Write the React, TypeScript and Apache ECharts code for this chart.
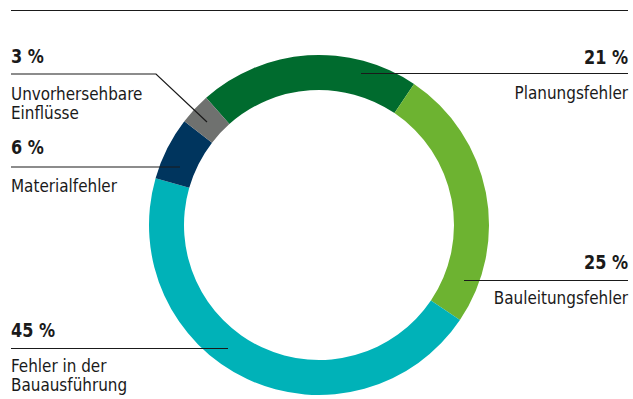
import React, { useEffect, useRef } from "react";
import * as echarts from "echarts";

// Causes of construction defects, share in percent
const categories = [
  "Planungsfehler",
  "Bauleitungsfehler",
  "Fehler in der\nBauausführung",
  "Materialfehler",
  "Unvorhersehbare\nEinflüsse",
];
const shares = [21, 25, 45, 6, 3];
const sliceColors = ["#006b2e", "#6db331", "#00b2b8", "#00355e", "#6f716f"];

// Callout placement for each slice (same order as the data)
type Callout = {
  side: "left" | "right";
  leader: number[][];
  pctY: number;
  nameY: number;
};
const callouts: Callout[] = [
  { side: "right", leader: [[361, 73.5], [628, 73.5]], pctY: 57, nameY: 93 },
  { side: "right", leader: [[464, 280.5], [628, 280.5]], pctY: 262.5, nameY: 298 },
  { side: "left", leader: [[11, 348.5], [228, 348.5]], pctY: 330, nameY: 365.5 },
  { side: "left", leader: [[11, 167], [180, 167]], pctY: 147.5, nameY: 186 },
  { side: "left", leader: [[11, 74], [156, 74], [207, 122]], pctY: 56, nameY: 94 },
];

const FONT = "'DejaVu Sans Condensed', 'DejaVu Sans', sans-serif";
const INK = "#1a1a1a";
const LEFT_X = 11;
const RIGHT_X = 628;
const LINE_GAP = 19;
const TEXT_SIZE = 18;
const PCT_SIZE = 19;
const TEXT_SQUEEZE = 0.94;

function buildGraphics() {
  const els: any[] = [
    {
      type: "line",
      z: 100,
      shape: { x1: LEFT_X, y1: 10.5, x2: RIGHT_X, y2: 10.5 },
      style: { stroke: INK, lineWidth: 1.2 },
    },
  ];
  callouts.forEach((c, i) => {
    const x = c.side === "left" ? LEFT_X : RIGHT_X;
    const align = c.side === "left" ? "left" : "right";
    els.push({
      type: "polyline",
      z: 100,
      shape: { points: c.leader },
      style: { stroke: INK, lineWidth: 1.2, fill: null },
    });
    els.push({
      type: "text",
      z: 100,
      x,
      y: c.pctY,
      scaleX: TEXT_SQUEEZE,
      style: {
        text: `${shares[i]} %`,
        font: `bold ${PCT_SIZE}px ${FONT}`,
        fill: INK,
        align,
        verticalAlign: "middle",
      },
    });
    categories[i].split("\n").forEach((line, k) => {
      els.push({
        type: "text",
        z: 100,
        x,
        y: c.nameY + k * LINE_GAP,
        scaleX: TEXT_SQUEEZE,
        style: {
          text: line,
          font: `${TEXT_SIZE}px ${FONT}`,
          fill: INK,
          align,
          verticalAlign: "middle",
        },
      });
    });
  });
  return els;
}

export default function App() {
  const ref = useRef<HTMLDivElement>(null);

  useEffect(() => {
    if (!ref.current) return;
    const chart = echarts.init(ref.current, null, { renderer: "svg" });
    chart.setOption({
      animation: false,
      backgroundColor: "#ffffff",
      series: [
        {
          type: "pie",
          center: [319, 225],
          radius: [135, 170],
          startAngle: 131.6,
          clockwise: true,
          silent: true,
          avoidLabelOverlap: false,
          label: { show: false },
          labelLine: { show: false },
          emphasis: { disabled: true },
          itemStyle: { borderWidth: 0 },
          data: categories.map((name, i) => ({
            name,
            value: shares[i],
            itemStyle: { color: sliceColors[i] },
          })),
        },
      ],
      graphic: buildGraphics(),
    });
    return () => chart.dispose();
  }, []);

  return (
    <div
      ref={ref}
      style={{ position: "fixed", left: 0, top: 0, width: 633, height: 399 }}
    />
  );
}
